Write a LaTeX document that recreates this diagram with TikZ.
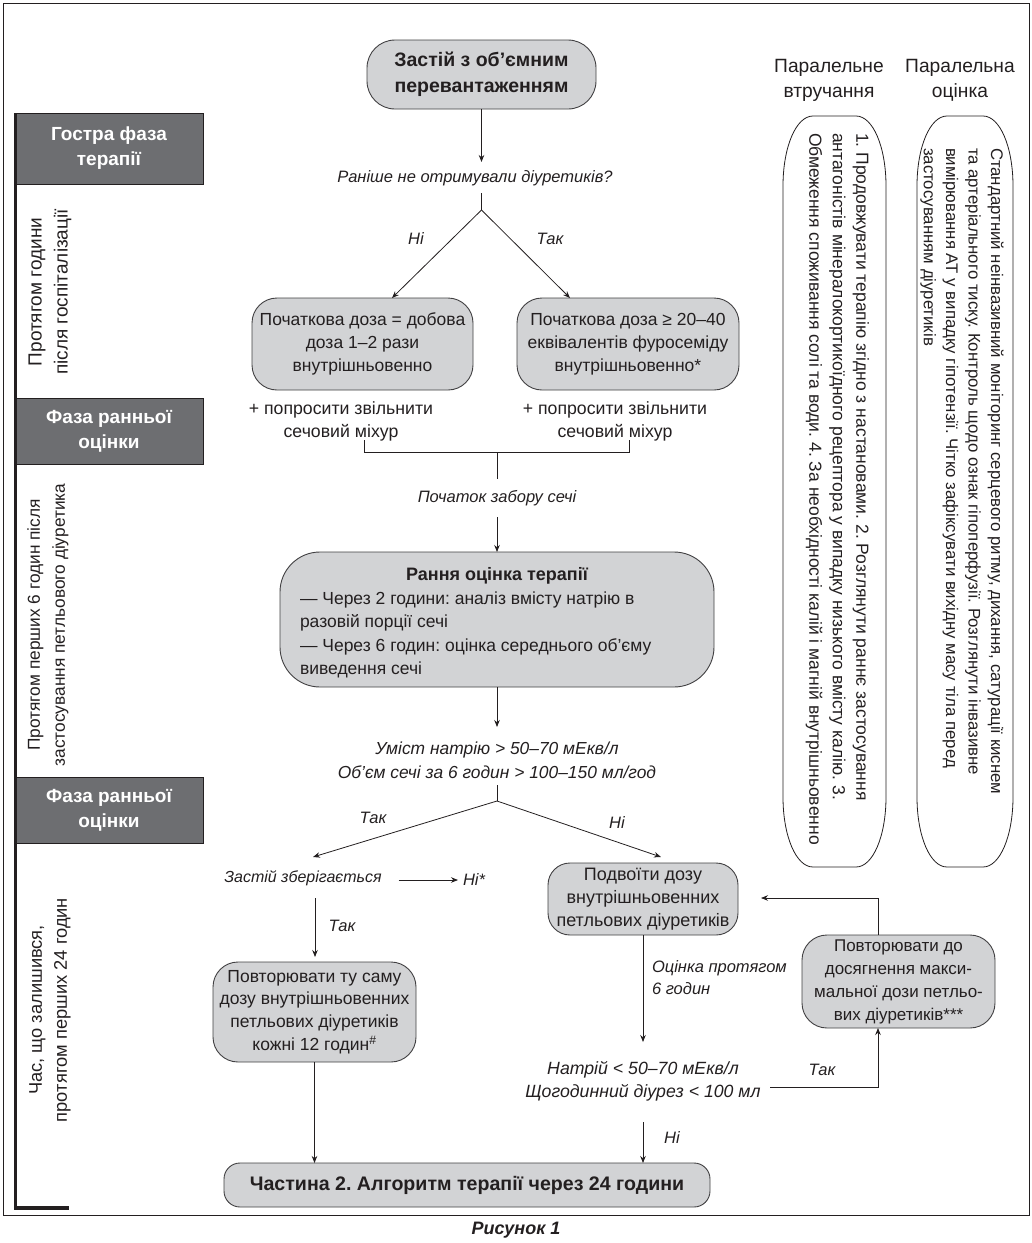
\documentclass[tikz,border=0pt]{standalone}
\usepackage{fontspec}
\setmainfont{Liberation Sans}
\usetikzlibrary{arrows.meta}
\definecolor{ink}{HTML}{231F20}
\definecolor{phasegray}{HTML}{6D6E71}
\definecolor{boxgray}{HTML}{D2D3D5}
\definecolor{edgegray}{HTML}{414042}
\newcommand{\fsBox}{\fontsize{17.5}{23}\selectfont}
\newcommand{\fsTxt}{\fontsize{16.5}{23.5}\selectfont}
\newcommand{\fsHead}{\fontsize{19.2}{25}\selectfont}
\newcommand{\fsPhase}{\fontsize{19}{25}\selectfont\bfseries}
\newcommand{\fsCap}{\fontsize{17.5}{23.5}\selectfont}
\begin{document}
\frenchspacing
\begin{tikzpicture}[x=1pt,y=-1pt,
  every node/.style={inner sep=0pt, outer sep=0pt, text=ink},
  gbox/.style={draw=edgegray, line width=0.9pt, fill=boxgray, align=center, font=\fsBox},
  phase/.style={draw=ink, line width=0.7pt, fill=phasegray, text=white, align=center, font=\fsPhase, minimum width=188pt},
  lbl/.style={font=\fsTxt\itshape},
  txt/.style={font=\fsTxt, align=center},
  conn/.style={draw=ink, line width=0.8pt},
  arr/.style={conn, -{Stealth[length=7pt,width=5.5pt]}},
  capsule/.style={draw=ink, line width=0.8pt},
  captext/.style={font=\fsCap, align=left},
  sidelbl/.style={align=center, rotate=90}
]
\path[use as bounding box] (0,0) rectangle (1032,1243);
\draw[ink, line width=1pt] (3,3) rectangle (1029,1215);
\node[font=\fontsize{18}{20}\selectfont\bfseries\itshape] (cap) at (516,1230) {Рисунок 1};

% left phase column
\node[phase, minimum height=71pt] (Ph1) at (109,148.5) {Гостра фаза\\терапії};
\node[phase, minimum height=66pt] (Ph2) at (109,431) {Фаза ранньої\\оцінки};
\node[phase, minimum height=66pt] (Ph3) at (109,810) {Фаза ранньої\\оцінки};
\draw[ink, line width=3.2pt] (15.5,113) -- (15.5,1208) -- (69,1208);
\node[sidelbl, font=\fontsize{19}{26}\selectfont] (t1) at (50,292) {Протягом години\\після госпіталізації};
\node[sidelbl, font=\fontsize{17.3}{25}\selectfont] (t2) at (48,625) {Протягом перших 6 годин після\\застосування петльового діуретика};
\node[sidelbl, font=\fontsize{18.3}{25}\selectfont] (t3) at (50,1010) {Час, що залишився,\\протягом перших 24 годин};

% right parallel columns
\node[font=\fsHead, align=center] (H1) at (829,80.5) {Паралельне\\втручання};
\node[font=\fsHead, align=center] (H2) at (960,80.5) {Паралельна\\оцінка};
\draw[capsule] (783,186) .. controls (783,147) and (796,116) .. (813,116) -- (856,116)
  .. controls (873,116) and (886,147) .. (886,186) -- (886,797)
  .. controls (886,836) and (873,867) .. (856,867) -- (813,867)
  .. controls (796,867) and (783,836) .. (783,797) -- cycle;
\draw[capsule] (917,186) .. controls (917,147) and (930,116) .. (947,116) -- (983,116)
  .. controls (1000,116) and (1013,147) .. (1013,186) -- (1013,797)
  .. controls (1013,836) and (1000,867) .. (983,867) -- (947,867)
  .. controls (930,867) and (917,836) .. (917,797) -- cycle;
\node[captext, rotate=-90, anchor=north west] (C1t) at (869,133) {1. Продовжувати терапію згідно з настановами. 2. Розглянути раннє застосування\\антагоністів мінералокортикоїдного рецептора у випадку низького вмісту калію. 3.\\Обмеження споживання солі та води. 4. За необхідності калій і магній внутрішньовенно};
\node[captext, font=\fontsize{16.8}{22.4}\selectfont, rotate=-90, anchor=north west] (C2t) at (1003.5,148) {Стандартний неінвазивний моніторинг серцевого ритму, дихання, сатурації киснем\\та артеріального тиску. Контроль щодо ознак гіпоперфузії. Розглянути інвазивне\\вимірювання АТ у випадку гіпотензії. Чітко зафіксувати вихідну масу тіла перед\\застосуванням діуретиків};

% main flow
\node[gbox, font=\fontsize{19.5}{26}\selectfont\bfseries, minimum width=229pt, minimum height=69pt, rounded corners=28pt] (T) at (481.5,74.5) {Застій з об’ємним\\перевантаженням};
\node[lbl] (Q) at (475,178) {Раніше не отримували діуретиків?};
\coordinate (Qin) at (481.5,162);
\coordinate (Qout) at (481.5,193);
\coordinate (B1) at (481.5,210);
\draw[arr] (T.south) -- (Qin);
\draw[conn] (Qout) -- (B1);
\node[gbox, minimum width=221pt, minimum height=92pt, rounded corners=25pt] (L) at (362.5,344) {Початкова доза = добова\\доза 1–2 рази\\внутрішньовенно};
\node[gbox, minimum width=222pt, minimum height=92pt, rounded corners=25pt] (R) at (628,344) {Початкова доза ≥ 20–40\\еквівалентів фуросеміду\\внутрішньовенно*};
\draw[arr] (B1) -- ([xshift=29.5pt]L.north);
\draw[arr] (B1) -- ([xshift=-58pt]R.north);
\node[lbl] (no1) at (416,239) {Ні};
\node[lbl] (yes1) at (550,239) {Так};
\node[txt, font=\fontsize{17.7}{23}\selectfont] (P1) at (341,421) {+ попросити звільнити\\сечовий міхур};
\node[txt, font=\fontsize{17.7}{23}\selectfont] (P2) at (615,421) {+ попросити звільнити\\сечовий міхур};
\coordinate (K1a) at (364,440);
\coordinate (K1) at (364,452);
\coordinate (K2) at (629,452);
\coordinate (K2a) at (629,440);
\coordinate (KC) at (497,452);
\coordinate (Sin) at (497,479);
\coordinate (Sout) at (497,517);
\draw[conn] (K1a) -- (K1) -- (K2) -- (K2a);
\draw[conn] (KC) -- (Sin);
\node[lbl] (S) at (497,498) {Початок забору сечі};
\node[gbox, minimum width=434pt, minimum height=135pt, rounded corners=40pt] (E) at (497,619.5) {};
\draw[arr] (Sout) -- (E.north);
\node[font=\fontsize{18}{23}\selectfont\bfseries] (Et) at (497,576) {Рання оцінка терапії};
\node[font=\fontsize{17.5}{23.3}\selectfont, align=left, anchor=west] (El) at (300,635) {— Через 2 години: аналіз вмісту натрію в\\разовій порції сечі\\— Через 6 годин: оцінка середнього об’єму\\виведення сечі};
\coordinate (Cin) at (497,727);
\coordinate (Cout) at (497,785);
\coordinate (B2) at (497,801);
\draw[arr] (E.south) -- (Cin);
\node[lbl, align=center, font=\fontsize{17.4}{24}\selectfont\itshape] (C) at (497,760) {Уміст натрію > 50–70 мЕкв/л\\Об’єм сечі за 6 годин > 100–150 мл/год};
\draw[conn] (Cout) -- (B2);
\coordinate (Zin) at (313,857);
\coordinate (Din) at (661,857);
\draw[arr] (B2) -- (Zin);
\draw[arr] (B2) -- (Din);
\node[lbl] (yes2) at (373,818) {Так};
\node[lbl] (no2) at (617,823) {Ні};
\node[lbl, font=\fontsize{16}{20}\selectfont\itshape] (Z) at (303,878) {Застій зберігається};
\node[lbl, anchor=west] (Nst) at (463,880) {Ні*};
\draw[arr] ([xshift=17pt,yshift=-2pt]Z.east) -- ([xshift=-5pt]Nst.west);
\coordinate (Zout) at (315,898);
\coordinate (Gin) at (315,957);
\draw[arr] (Zout) -- (Gin);
\node[lbl] (yes3) at (342,926) {Так};
\node[gbox, font=\fontsize{17.5}{22.7}\selectfont, minimum width=203pt, minimum height=100pt, rounded corners=25pt] (G) at (314.5,1012) {Повторювати ту саму\\дозу внутрішньовенних\\петльових діуретиків\\кожні 12 годин\textsuperscript{\#}};
\node[gbox, font=\fontsize{19.6}{22}\selectfont\bfseries, minimum width=486pt, minimum height=44pt, rounded corners=16pt] (F) at (467,1185) {Частина 2. Алгоритм терапії через 24 години};
\draw[arr] (G.south) -- (G.south |- F.north);
\node[gbox, font=\fontsize{18}{23}\selectfont, minimum width=190pt, minimum height=72pt, rounded corners=22pt] (D) at (643,899) {Подвоїти дозу\\внутрішньовенних\\петльових діуретиків};
\coordinate (Nin) at (643,1042);
\draw[arr] (D.south) -- (Nin);
\node[lbl, align=left, anchor=west, font=\fontsize{16.5}{22}\selectfont\itshape] (O) at (652,978) {Оцінка протягом\\6 годин};
\node[lbl, align=center, font=\fontsize{17.7}{23}\selectfont\itshape] (N) at (643,1081.5) {Натрій < 50–70 мЕкв/л\\Щогодинний діурез < 100 мл};
\node[gbox, font=\fontsize{17}{23}\selectfont, minimum width=193pt, minimum height=93pt, rounded corners=25pt] (M) at (898.5,981.5) {Повторювати до\\досягнення макси-\\мальної дози петльо-\\вих діуретиків***};
\coordinate (Nr) at (770,1087);
\coordinate (Dr) at (761,898);
\draw[arr] (Nr) -| ([xshift=-20.5pt]M.south);
\draw[arr] ([xshift=-20.5pt]M.north) |- (Dr);
\node[lbl] (yes4) at (822,1070) {Так};
\coordinate (Nout) at (643,1122);
\draw[arr] (Nout) -- (Nout |- F.north);
\node[lbl] (no4) at (672,1138) {Ні};
\end{tikzpicture}
\end{document}
